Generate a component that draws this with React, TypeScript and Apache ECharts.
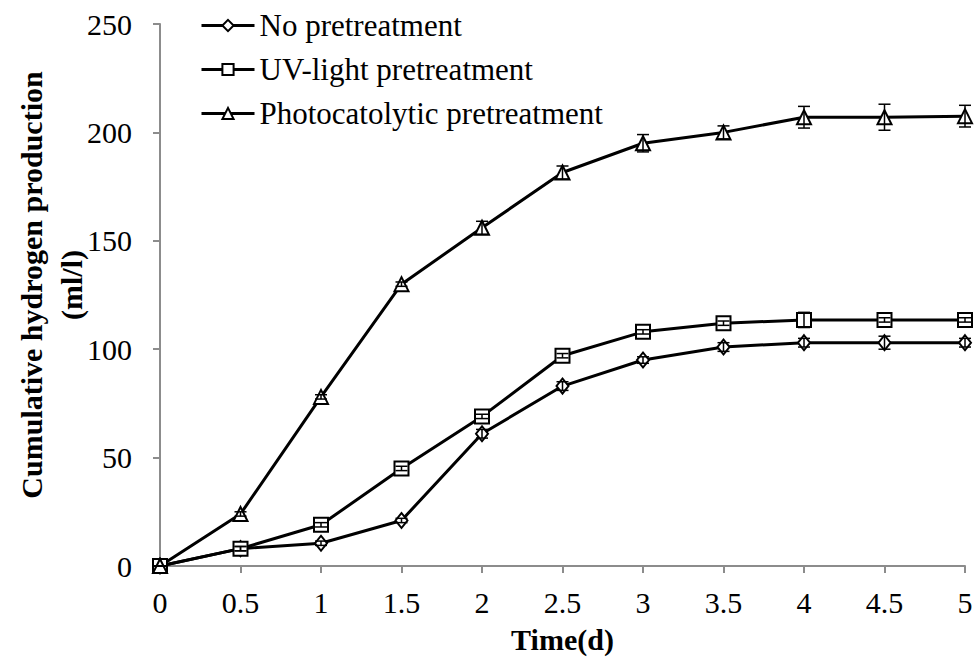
import React, { useEffect, useRef } from "react";
import * as echarts from "echarts";

const days = [0, 0.5, 1, 1.5, 2, 2.5, 3, 3.5, 4, 4.5, 5];
const noPre = [0, 8, 10.5, 21, 61, 83, 95, 101, 103, 103, 103];
const noPreErr = [0, 1, 1, 1, 2, 2, 1.5, 2, 2, 3, 2];
const uvLight = [0, 8, 19, 45, 69, 97, 108, 112, 113.5, 113.5, 113.5];
const uvLightErr = [0, 1, 1, 1, 1, 1, 1, 1, 3.5, 1, 1];
const photo = [0, 24, 78, 130, 156, 181.5, 195, 200, 207, 207, 207.5];
const photoErr = [0, 1, 1, 1, 3, 3, 4, 3, 5, 6, 5];
const seriesNames = ["No pretreatment", "UV-light pretreatment", "Photocatolytic pretreatment"];
const yTicks = [0, 50, 100, 150, 200, 250];
const yTitle = ["Cumulative hydrogen production", "(ml/l)"];

const FONT = "Liberation Serif";

function errData(vals: number[], errs: number[]) {
  return days.map((d, i) => [d, vals[i] - errs[i], vals[i] + errs[i]]);
}

const renderErr = (params: any, api: any) => {
  const x = api.value(0);
  const lo = api.coord([x, api.value(1)]);
  const hi = api.coord([x, api.value(2)]);
  const cap = 6;
  const style = { stroke: "#000", lineWidth: 1.5 };
  return {
    type: "group",
    children: [
      { type: "line", shape: { x1: lo[0], y1: lo[1], x2: hi[0], y2: hi[1] }, style },
      { type: "line", shape: { x1: lo[0] - cap, y1: lo[1], x2: lo[0] + cap, y2: lo[1] }, style },
      { type: "line", shape: { x1: hi[0] - cap, y1: hi[1], x2: hi[0] + cap, y2: hi[1] }, style },
    ],
  };
};

export default function App() {
  const ref = useRef<HTMLDivElement>(null);
  useEffect(() => {
    if (!ref.current) return;
    const chart = echarts.init(ref.current, undefined, { renderer: "svg" });
    const mk = (name: string, vals: number[], symbol: string, size: any) => ({
      name,
      type: "line",
      data: days.map((d, i) => [d, vals[i]]),
      symbol,
      symbolSize: size,
      showAllSymbol: true,
      lineStyle: { color: "#000", width: 3 },
      itemStyle: { color: "#fff", borderColor: "#000", borderWidth: 2 },
      z: 3,
    });
    const errSeries = (vals: number[], errs: number[]) => ({
      type: "custom",
      data: errData(vals, errs),
      renderItem: renderErr,
      z: 4,
      silent: true,
    });
    chart.setOption({
      animation: false,
      backgroundColor: "#fff",
      textStyle: { fontFamily: FONT, color: "#000" },
      grid: { left: 160, right: 11, top: 24, bottom: 98, containLabel: false, outerBoundsMode: "none" },
      legend: {
        orient: "vertical",
        left: 195,
        top: 5,
        itemWidth: 53,
        itemHeight: 14,
        itemGap: 13,
        data: seriesNames,
        lineStyle: { width: 3, color: "#000" },
        textStyle: { fontFamily: FONT, fontSize: 31, color: "#000" },
      },
      graphic: [
        {
          type: "text",
          x: 31,
          y: 285,
          rotation: Math.PI / 2,
          style: { text: yTitle[0], font: "bold 30px 'Liberation Serif'", fill: "#000", align: "center", verticalAlign: "middle" },
        },
        {
          type: "text",
          x: 71,
          y: 285,
          rotation: Math.PI / 2,
          style: { text: yTitle[1], font: "bold 30px 'Liberation Serif'", fill: "#000", align: "center", verticalAlign: "middle" },
        },
      ],
      xAxis: {
        type: "value",
        min: 0,
        max: 5,
        interval: 0.5,
        name: "Time(d)",
        nameLocation: "middle",
        nameGap: 58,
        nameTextStyle: { fontFamily: FONT, fontSize: 30, fontWeight: "bold", color: "#000" },
        axisLine: { lineStyle: { color: "#8c8c8c", width: 2 } },
        axisTick: { show: true, inside: false, length: 7, lineStyle: { color: "#8c8c8c", width: 2 } },
        axisLabel: { fontFamily: FONT, fontSize: 30, color: "#000", margin: 21 },
        splitLine: { show: false },
      },
      yAxis: {
        type: "value",
        min: 0,
        max: 250,
        interval: 50,
        axisLine: { show: true, lineStyle: { color: "#8c8c8c", width: 2 } },
        axisTick: { show: true, inside: false, length: 7, lineStyle: { color: "#8c8c8c", width: 2 } },
        axisLabel: {
          fontFamily: FONT,
          fontSize: 30,
          color: "#000",
          margin: 28,
          formatter: (v: number) => (yTicks.includes(v) ? String(v) : ""),
        },
        splitLine: { show: false },
      },
      series: [
        errSeries(noPre, noPreErr),
        errSeries(uvLight, uvLightErr),
        errSeries(photo, photoErr),
        mk(seriesNames[0], noPre, "diamond", [12, 15]),
        mk(seriesNames[1], uvLight, "rect", 14),
        mk(seriesNames[2], photo, "triangle", 14),
      ],
    });
    return () => chart.dispose();
  }, []);
  return <div ref={ref} style={{ width: 976, height: 664, position: "absolute", left: 0, top: 0 }} />;
}
